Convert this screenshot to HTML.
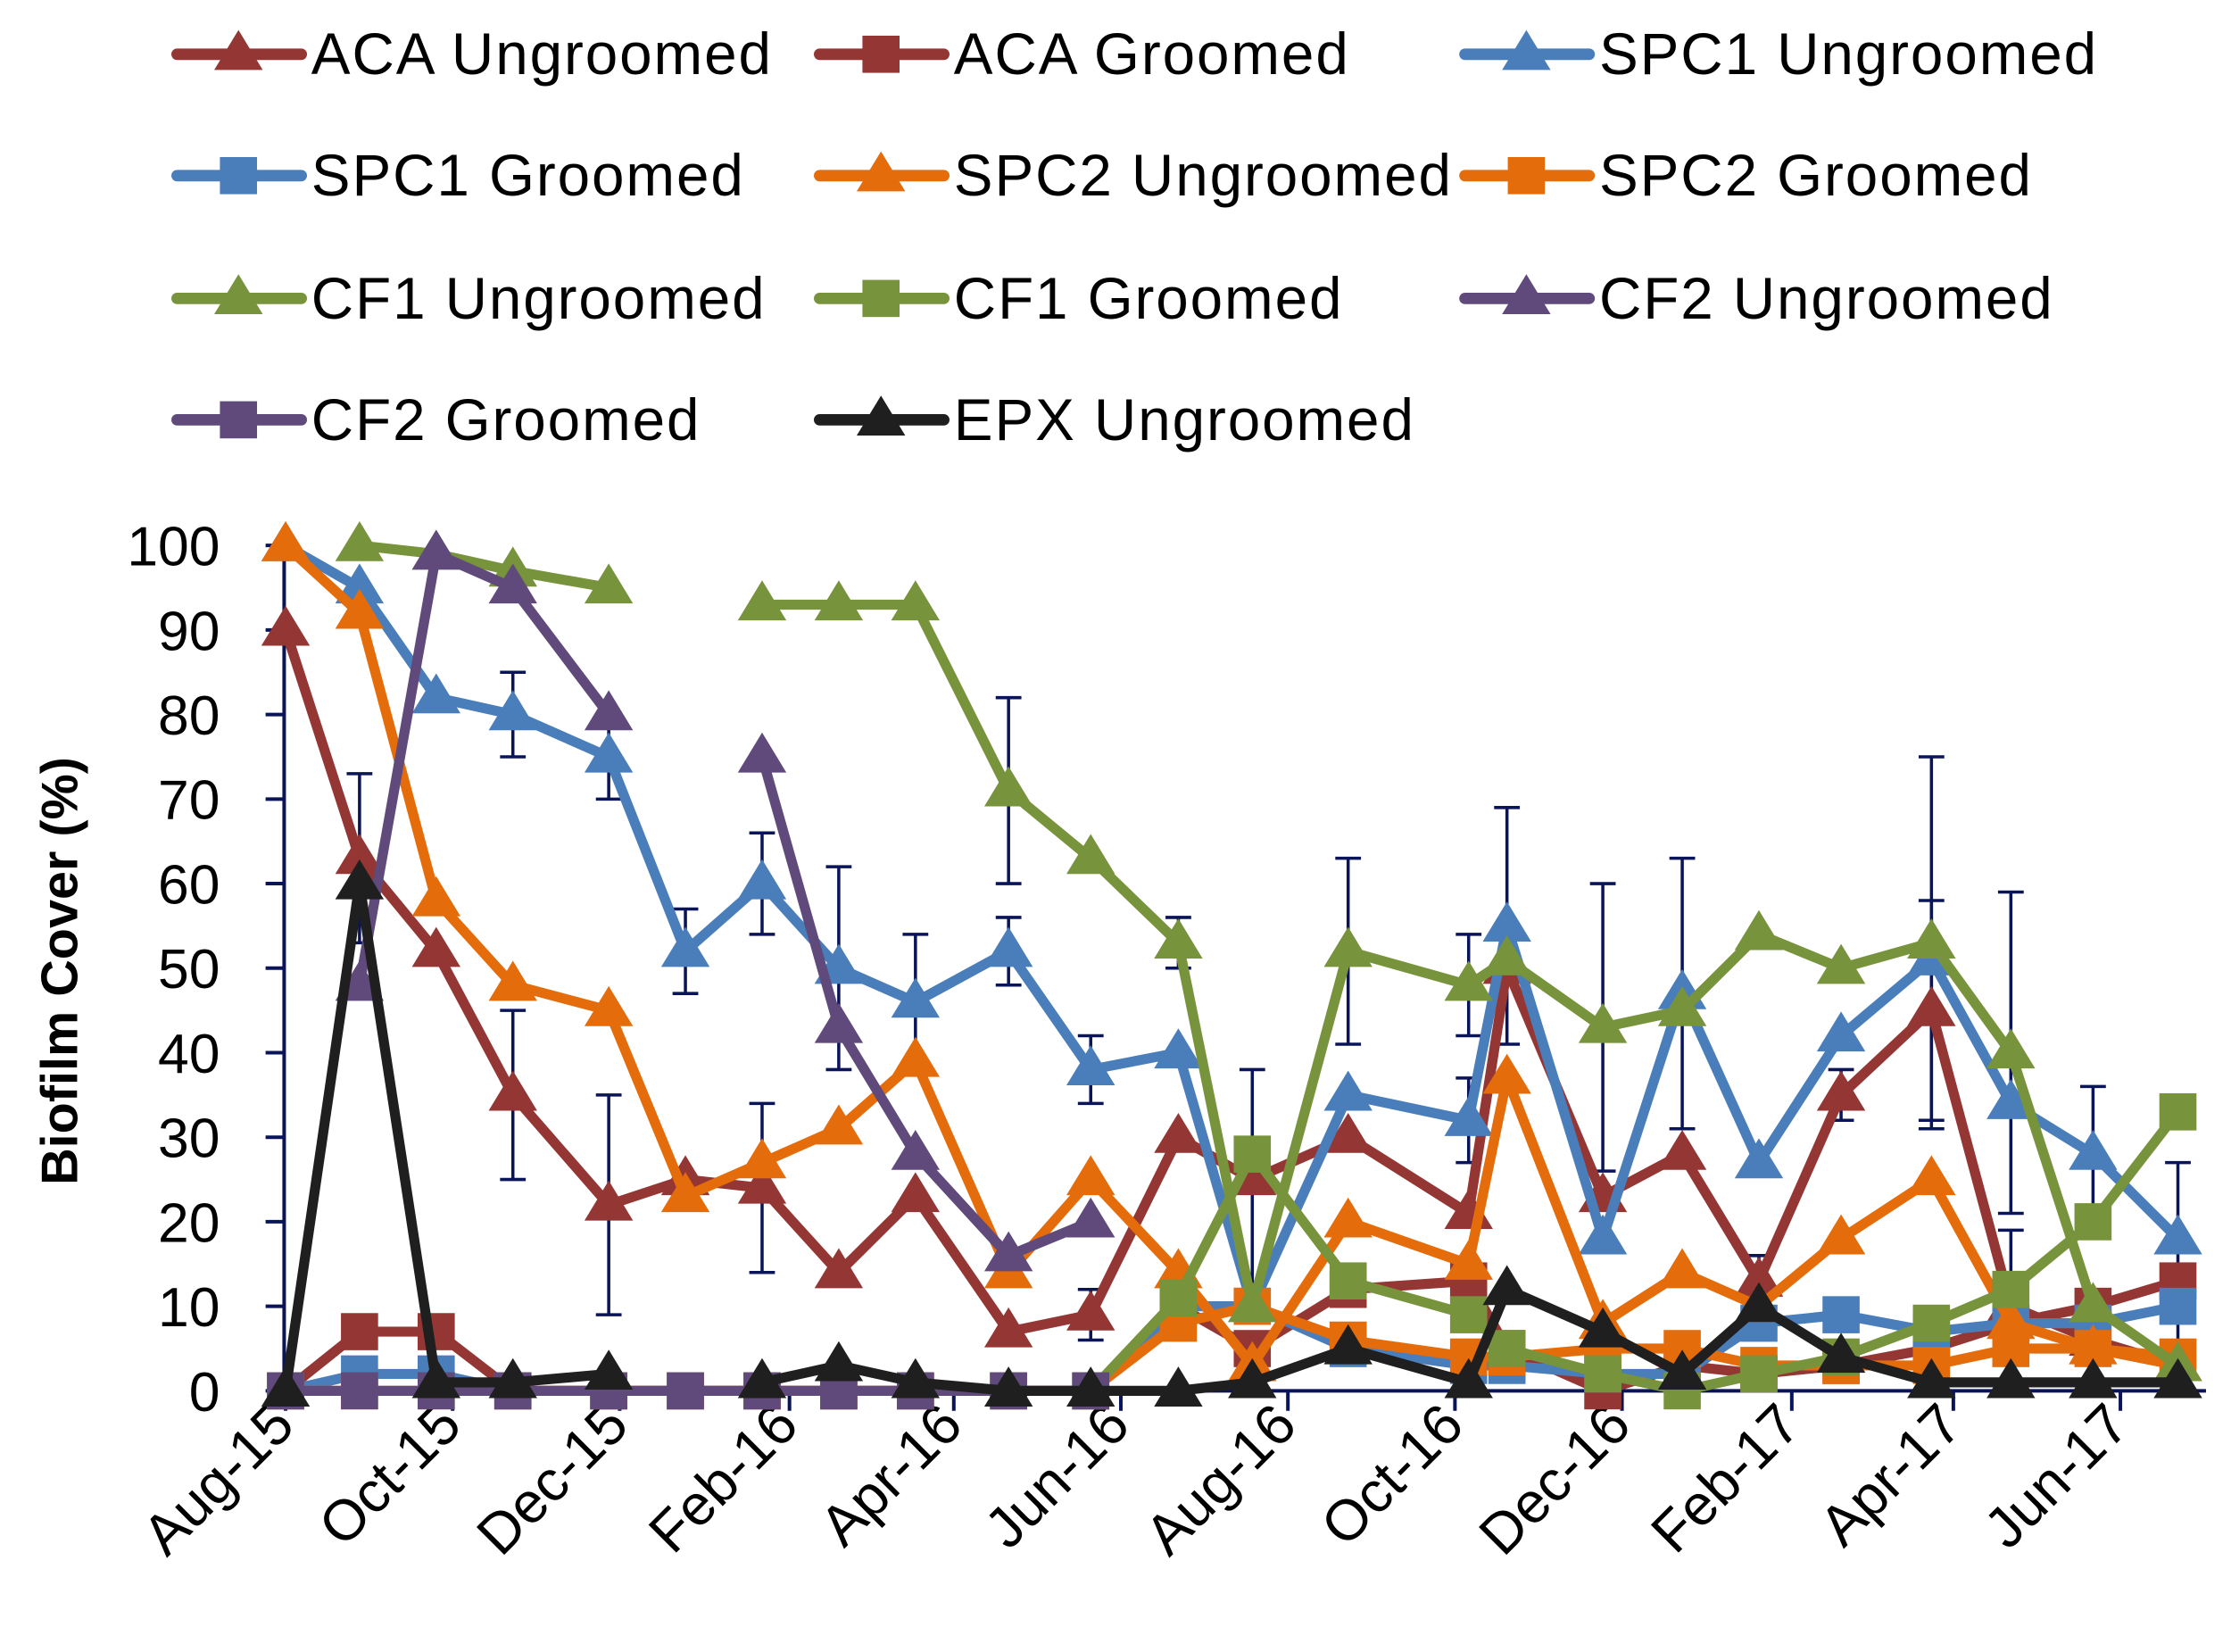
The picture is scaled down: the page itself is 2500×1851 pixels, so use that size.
<!DOCTYPE html>
<html><head><meta charset="utf-8"><style>
html,body{margin:0;padding:0;background:#fff;}
svg{display:block;}
text{font-family:"Liberation Sans",sans-serif;fill:#000;}
</style></head><body>
<svg id="chart" width="2500" height="1851" viewBox="0 0 1562.5 1156.9" xmlns="http://www.w3.org/2000/svg">
<rect width="1562.5" height="1156.9" fill="#fff"/>
<g id="legend"></g>
<g id="grid"></g>
<g id="errs"></g>
<g id="series"></g>
<text transform="translate(54,680) rotate(-90)" text-anchor="middle" font-size="36" font-weight="bold">Biofilm Cover (%)</text>
</svg>
<script>
const dates=['2015-08-01','2015-08-28','2015-09-25','2015-10-23','2015-11-27','2015-12-25','2016-01-22','2016-02-19','2016-03-18','2016-04-21','2016-05-21','2016-06-22','2016-07-19','2016-08-23','2016-10-06','2016-10-20','2016-11-24','2016-12-23','2017-01-20','2017-02-19','2017-03-24','2017-04-22','2017-05-22','2017-06-22'];
const tickLabels=['Aug-15','Oct-15','Dec-15','Feb-16','Apr-16','Jun-16','Aug-16','Oct-16','Dec-16','Feb-17','Apr-17','Jun-17'];
const tickDates=['2015-08-01','2015-10-01','2015-12-01','2016-02-01','2016-04-01','2016-06-01','2016-08-01','2016-10-01','2016-12-01','2017-02-01','2017-04-01','2017-06-01'];
const yTicks=[0,10,20,30,40,50,60,70,80,90,100];
const seriesNames=['ACA Ungroomed','ACA Groomed','SPC1 Ungroomed','SPC1 Groomed','SPC2 Ungroomed','SPC2 Groomed','CF1 Ungroomed','CF1 Groomed','CF2 Ungroomed','CF2 Groomed','EPX Ungroomed'];
const acaUng=[90,63,52,35,22,25,24,14,23,7,9,30,25,30,21,50,23,28,13,35,45,10,6,3];
const acaGro=[0,7,7,0,0,0,0,0,0,0,0,10,5,12,13,5,0,3,2,3,5,8,10,13];
const spc1Ung=[100,95,82,80,75,52,60,50,46,52,38,40,10,35,32,55,18,47,27,42,51,34,28,18];
const spc1Gro=[0,2,2,0,0,0,0,0,0,0,0,10,10,5,3,3,2,2,8,9,7,8,8,10];
const spc2Ung=[100,92,58,48,45,23,27,31,39,14,25,14,3,20,15,37,8,14,10,18,25,8,5,3];
const spc2Gro=[0,0,0,0,0,0,0,0,0,0,0,8,10,6,4,4,5,5,3,3,3,5,5,4];
const cf1Ung=[null,100,99,97,95,null,93,93,93,71,63,53,10,52,48,51,43,45,54,50,53,40,10,3];
const cf1Gro=[null,null,null,null,null,null,null,null,null,null,0,11,28,13,9,5,2,0,2,4,8,12,20,33];
const cf2Ung=[null,48,99,95,80,null,75,43,28,16,20,null,null,null,null,null,null,null,null,null,null,null,null,null];
const cf2Gro=[0,0,0,0,0,0,0,0,0,0,0,null,null,null,null,null,null,null,null,null,null,null,null,null];
const epxUng=[0,60,1,1,2,null,1,3,1,0,0,0,1,5,1,12,7,2,10,4,1,1,1,1];
const spc1UngErr=[0,0,0,5,5,5,6,12,8,4,4,0,0,0,5,14,0,16,0,0,0,0,8,0];
const cf1UngErr=[0,0,0,0,0,0,0,0,0,11,0,3,0,11,6,0,17,0,0,0,22,19,0,0];
const acaUngErr=[0,10,0,10,13,0,10,0,0,0,3,0,13,0,0,0,0,0,3,3,13,9,0,24];
const colors=['#943634','#943634','#4a7ebb','#4a7ebb','#e46c0a','#e46c0a','#77933c','#77933c','#604a7b','#604a7b','#1f1f1f'];
const markers=['tri','sq','tri','sq','tri','sq','tri','sq','tri','sq','tri'];
const allVals=[acaUng,acaGro,spc1Ung,spc1Gro,spc2Ung,spc2Gro,cf1Ung,cf1Gro,cf2Ung,cf2Gro,epxUng];
const NS='http://www.w3.org/2000/svg';
const X0=200,PXDAY=1.918,Y0=974,Y100=382;
const base=Date.UTC(2015,7,1);
function xs(d){const p=d.split('-');return X0+(Date.UTC(+p[0],+p[1]-1,+p[2])-base)/86400000*PXDAY;}
function ys(v){return Y0-(v/100)*(Y0-Y100);}
function mk(tag,attrs,parent){const e=document.createElementNS(NS,tag);for(const k in attrs)e.setAttribute(k,attrs[k]);parent.appendChild(e);return e;}
function marker(type,x,y,c,parent,s){
  if(type==='tri'){return mk('polygon',{points:`${x},${y-17*s} ${x-17*s},${y+11*s} ${x+17*s},${y+11*s}`,fill:c},parent);}
  return mk('rect',{x:x-13*s,y:y-13*s,width:26*s,height:26*s,fill:c},parent);
}
const grid=document.getElementById('grid');
const axisC='#0a1458';
const ya=mk('line',{x1:199,y1:Y100-4,x2:199,y2:Y0,stroke:axisC,'stroke-width':2.5},grid);


const xa=mk('line',{x1:199,y1:Y0,x2:1545,y2:Y0,stroke:axisC,'stroke-width':2.5},grid);


yTicks.forEach(v=>{
  mk('line',{x1:186,y1:ys(v),x2:199,y2:ys(v),stroke:axisC,'stroke-width':2.5},grid);
  const t=mk('text',{x:154,y:ys(v)+14,'text-anchor':'end','font-size':39},grid);
  t.textContent=v;
  
  
});
tickDates.forEach((d,i)=>{
  const x=xs(d);
  mk('line',{x1:x,y1:Y0,x2:x,y2:Y0+14,stroke:axisC,'stroke-width':2.5},grid);
  const t=mk('text',{transform:`translate(${x+8},${Y0+26}) rotate(-45)`,'text-anchor':'end','font-size':40},grid);
  t.textContent=tickLabels[i];
  
  
});
const errs=document.getElementById('errs');
[[spc1Ung,spc1UngErr],[cf1Ung,cf1UngErr],[acaUng,acaUngErr]].forEach(([vals,er])=>{
  vals.forEach((v,i)=>{
    if(v===null||!er[i])return;
    const x=xs(dates[i]);
    const lo=Math.max(0,v-er[i]),hi=Math.min(100,v+er[i]);
    let d=`M${x},${ys(lo)}V${ys(hi)}M${x-9},${ys(hi)}h18`;
    if(lo>0)d+=`M${x-9},${ys(lo)}h18`;
    const e=mk('path',{d:d,stroke:axisC,'stroke-width':2.2,fill:'none'},errs);
    
    
  });
});
const sg=document.getElementById('series');
allVals.forEach((vals,si)=>{
  const g=mk('g',{},sg);
  
  
  let d='',pen=false;
  vals.forEach((v,i)=>{
    if(v===null){pen=false;return;}
    d+=(pen?'L':'M')+xs(dates[i])+','+ys(v);pen=true;
  });
  mk('path',{d:d,stroke:colors[si],'stroke-width':7,fill:'none','stroke-linejoin':'round'},g);
  vals.forEach((v,i)=>{
    if(v===null)return;
    const m=marker(markers[si],xs(dates[i]),ys(v),colors[si],g,1);
    
    
  });
});
const lg=document.getElementById('legend');
const colX=[120,570,1022],rowY=[38,123,209,294];
seriesNames.forEach((n,i)=>{
  const x=colX[i%3],y=rowY[Math.floor(i/3)];
  const g=mk('g',{},lg);
  
  
  mk('line',{x1:x+4,y1:y,x2:x+91,y2:y,stroke:colors[i],'stroke-width':8,'stroke-linecap':'round'},g);
  marker(markers[i],x+47,y,colors[i],g,1);
  const t=mk('text',{x:x+98,y:y+14,'font-size':41,'letter-spacing':1.2},g);
  t.textContent=n;
});
</script>
</body></html>
